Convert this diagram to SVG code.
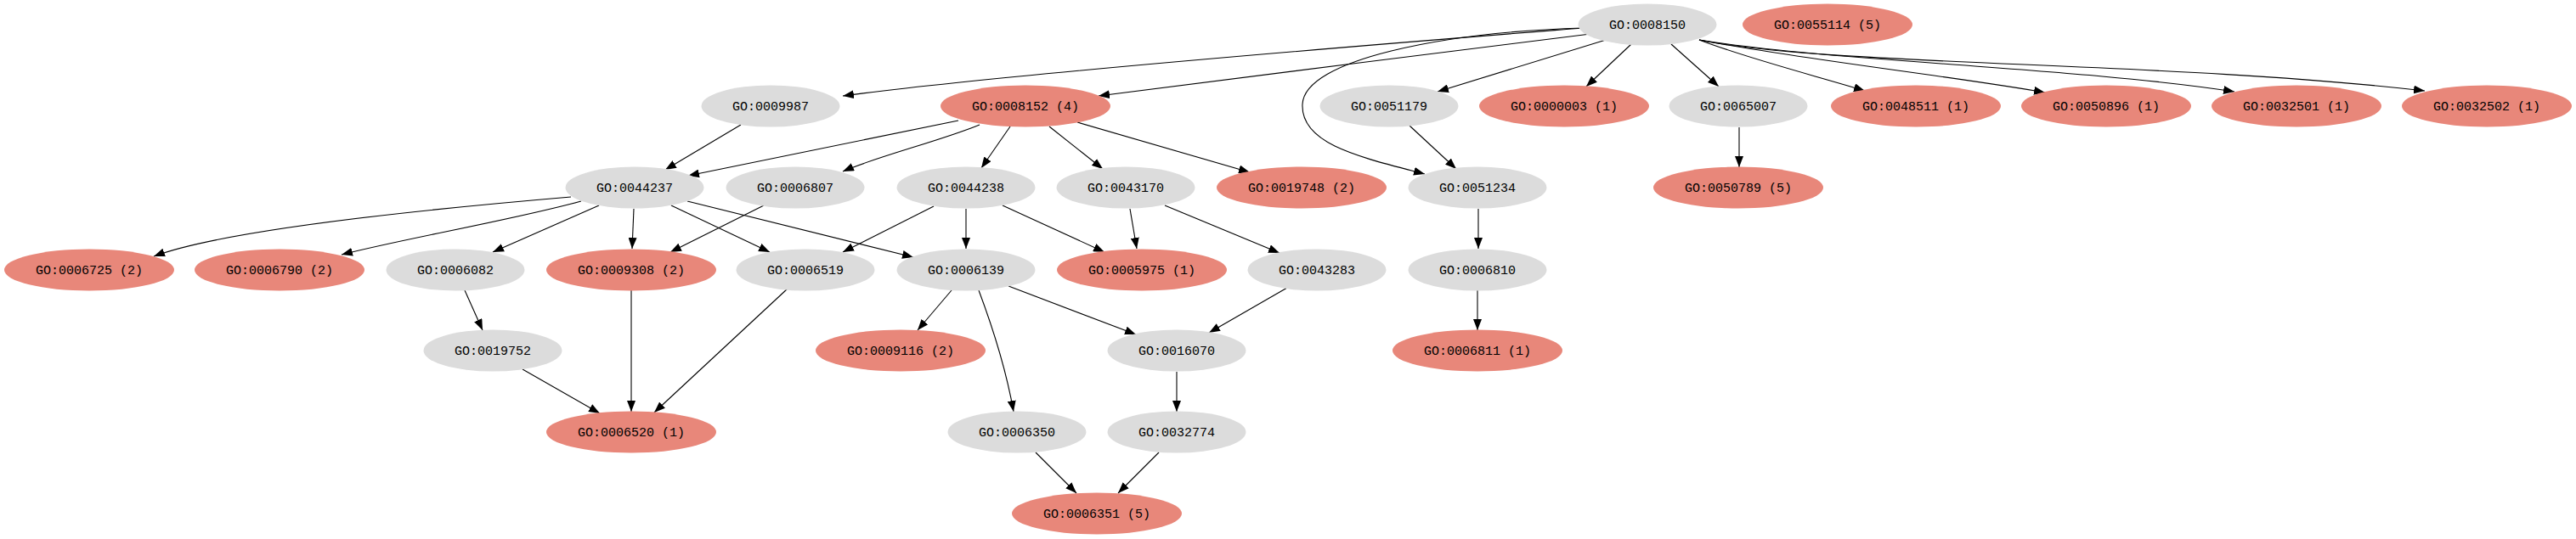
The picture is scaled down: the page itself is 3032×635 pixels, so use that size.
<svg xmlns="http://www.w3.org/2000/svg" width="3032" height="635" viewBox="0 0 3032 635">
<defs>
<marker id="ah" markerUnits="userSpaceOnUse" viewBox="0 0 13 10" refX="13" refY="5" markerWidth="13" markerHeight="10" orient="auto">
<path d="M0,0 L13,5 L0,10 Z" fill="#000"/>
</marker>
<style>
.g ellipse{fill:#dcdcdc}
.p ellipse{fill:#e8877a}
text{font-family:"Liberation Mono","DejaVu Sans Mono",monospace;font-size:15px;fill:#000;text-anchor:middle}
#edges path{fill:none;stroke:#000;stroke-width:1.1;marker-end:url(#ah)}
</style>
</defs>
<rect width="3032" height="635" fill="#fff"/>
<g id="edges">
<path d="M1863,33 C1700,46 1200,85 992,113"/>
<path d="M1872,40 C1700,62 1450,92 1293,113"/>
<path d="M1863,33 C1700,38 1535,70 1533,123 C1531,170 1600,185 1677,205"/>
<path d="M1890,47 L1692,108"/>
<path d="M1920,52 L1867,102"/>
<path d="M1967,52 L2023,102"/>
<path d="M2000,47 C2060,70 2140,90 2195,107"/>
<path d="M2000,47 C2120,70 2300,90 2407,109"/>
<path d="M2000,47 C2150,72 2450,80 2630,108"/>
<path d="M2000,47 C2150,78 2550,72 2854,107"/>
<path d="M872,147 L783,200"/>
<path d="M1128,142 L810,207"/>
<path d="M1153,147 C1110,165 1030,185 992,202"/>
<path d="M1189,149 L1155,198"/>
<path d="M1235,149 L1298,199"/>
<path d="M1268,144 L1471,203"/>
<path d="M1659,148 L1714,199"/>
<path d="M2047,150 L2047,197"/>
<path d="M672,232 C472,249 261,272 181,302"/>
<path d="M684,237 C600,260 480,280 402,300"/>
<path d="M705,242 L580,297"/>
<path d="M746,246 L744,293"/>
<path d="M899,242 L789,297"/>
<path d="M790,242 L906,297"/>
<path d="M809,237 L1075,303"/>
<path d="M1099,243 L992,297"/>
<path d="M1137,246 L1137,293"/>
<path d="M1180,242 L1300,297"/>
<path d="M1330,246 L1338,293"/>
<path d="M1371,242 L1506,298"/>
<path d="M1740,246 L1740,293"/>
<path d="M547,342 L568,389"/>
<path d="M743,342 L743,485"/>
<path d="M927,340 L770,486"/>
<path d="M615,435 L706,487"/>
<path d="M1120,342 L1080,389"/>
<path d="M1152,342 C1170,390 1185,440 1193,485"/>
<path d="M1187,337 L1337,394"/>
<path d="M1515,339 L1423,392"/>
<path d="M1739,342 L1739,389"/>
<path d="M1385,438 L1385,485"/>
<path d="M1219,533 L1267,581"/>
<path d="M1364,533 L1316,581"/>
</g>
<g id="n0008150" class="g"><ellipse cx="1939" cy="29" rx="81.5" ry="24.5"/><text x="1939" y="34">GO:0008150</text></g>
<g id="n0055114" class="p"><ellipse cx="2151" cy="29" rx="100" ry="24.5"/><text x="2151" y="34">GO:0055114 (5)</text></g>
<g id="n0009987" class="g"><ellipse cx="907" cy="125" rx="81.5" ry="24.5"/><text x="907" y="130">GO:0009987</text></g>
<g id="n0008152" class="p"><ellipse cx="1207" cy="125" rx="100" ry="24.5"/><text x="1207" y="130">GO:0008152 (4)</text></g>
<g id="n0051179" class="g"><ellipse cx="1635" cy="125" rx="81.5" ry="24.5"/><text x="1635" y="130">GO:0051179</text></g>
<g id="n0000003" class="p"><ellipse cx="1841" cy="125" rx="100" ry="24.5"/><text x="1841" y="130">GO:0000003 (1)</text></g>
<g id="n0065007" class="g"><ellipse cx="2046" cy="125" rx="81.5" ry="24.5"/><text x="2046" y="130">GO:0065007</text></g>
<g id="n0048511" class="p"><ellipse cx="2255" cy="125" rx="100" ry="24.5"/><text x="2255" y="130">GO:0048511 (1)</text></g>
<g id="n0050896" class="p"><ellipse cx="2479" cy="125" rx="100" ry="24.5"/><text x="2479" y="130">GO:0050896 (1)</text></g>
<g id="n0032501" class="p"><ellipse cx="2703" cy="125" rx="100" ry="24.5"/><text x="2703" y="130">GO:0032501 (1)</text></g>
<g id="n0032502" class="p"><ellipse cx="2927" cy="125" rx="100" ry="24.5"/><text x="2927" y="130">GO:0032502 (1)</text></g>
<g id="n0044237" class="g"><ellipse cx="747" cy="221" rx="81.5" ry="24.5"/><text x="747" y="226">GO:0044237</text></g>
<g id="n0006807" class="g"><ellipse cx="936" cy="221" rx="81.5" ry="24.5"/><text x="936" y="226">GO:0006807</text></g>
<g id="n0044238" class="g"><ellipse cx="1137" cy="221" rx="81.5" ry="24.5"/><text x="1137" y="226">GO:0044238</text></g>
<g id="n0043170" class="g"><ellipse cx="1325" cy="221" rx="81.5" ry="24.5"/><text x="1325" y="226">GO:0043170</text></g>
<g id="n0019748" class="p"><ellipse cx="1532" cy="221" rx="100" ry="24.5"/><text x="1532" y="226">GO:0019748 (2)</text></g>
<g id="n0051234" class="g"><ellipse cx="1739" cy="221" rx="81.5" ry="24.5"/><text x="1739" y="226">GO:0051234</text></g>
<g id="n0050789" class="p"><ellipse cx="2046" cy="221" rx="100" ry="24.5"/><text x="2046" y="226">GO:0050789 (5)</text></g>
<g id="n0006725" class="p"><ellipse cx="105" cy="318" rx="100" ry="24.5"/><text x="105" y="323">GO:0006725 (2)</text></g>
<g id="n0006790" class="p"><ellipse cx="329" cy="318" rx="100" ry="24.5"/><text x="329" y="323">GO:0006790 (2)</text></g>
<g id="n0006082" class="g"><ellipse cx="536" cy="318" rx="81.5" ry="24.5"/><text x="536" y="323">GO:0006082</text></g>
<g id="n0009308" class="p"><ellipse cx="743" cy="318" rx="100" ry="24.5"/><text x="743" y="323">GO:0009308 (2)</text></g>
<g id="n0006519" class="g"><ellipse cx="948" cy="318" rx="81.5" ry="24.5"/><text x="948" y="323">GO:0006519</text></g>
<g id="n0006139" class="g"><ellipse cx="1137" cy="318" rx="81.5" ry="24.5"/><text x="1137" y="323">GO:0006139</text></g>
<g id="n0005975" class="p"><ellipse cx="1344" cy="318" rx="100" ry="24.5"/><text x="1344" y="323">GO:0005975 (1)</text></g>
<g id="n0043283" class="g"><ellipse cx="1550" cy="318" rx="81.5" ry="24.5"/><text x="1550" y="323">GO:0043283</text></g>
<g id="n0006810" class="g"><ellipse cx="1739" cy="318" rx="81.5" ry="24.5"/><text x="1739" y="323">GO:0006810</text></g>
<g id="n0019752" class="g"><ellipse cx="580" cy="413" rx="81.5" ry="24.5"/><text x="580" y="418">GO:0019752</text></g>
<g id="n0009116" class="p"><ellipse cx="1060" cy="413" rx="100" ry="24.5"/><text x="1060" y="418">GO:0009116 (2)</text></g>
<g id="n0016070" class="g"><ellipse cx="1385" cy="413" rx="81.5" ry="24.5"/><text x="1385" y="418">GO:0016070</text></g>
<g id="n0006811" class="p"><ellipse cx="1739" cy="413" rx="100" ry="24.5"/><text x="1739" y="418">GO:0006811 (1)</text></g>
<g id="n0006520" class="p"><ellipse cx="743" cy="509" rx="100" ry="24.5"/><text x="743" y="514">GO:0006520 (1)</text></g>
<g id="n0006350" class="g"><ellipse cx="1197" cy="509" rx="81.5" ry="24.5"/><text x="1197" y="514">GO:0006350</text></g>
<g id="n0032774" class="g"><ellipse cx="1385" cy="509" rx="81.5" ry="24.5"/><text x="1385" y="514">GO:0032774</text></g>
<g id="n0006351" class="p"><ellipse cx="1291" cy="605" rx="100" ry="24.5"/><text x="1291" y="610">GO:0006351 (5)</text></g>
</svg>
